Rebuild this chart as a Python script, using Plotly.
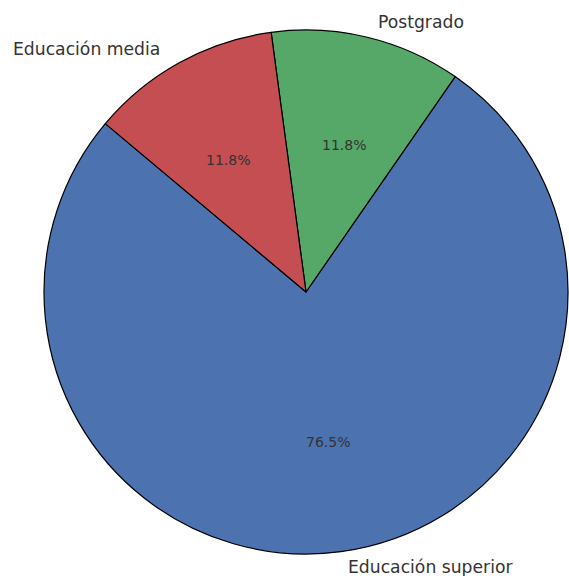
import numpy as np
import plotly.graph_objects as go

# Data
categories = ["Educación superior", "Postgrado", "Educación media"]
counts = [13, 2, 2]
colors = ["#4C72B0", "#55A868", "#C44E52"]

W, H = 569, 576
cx, cy = 306, 292          # pie centre (px)
r_pie = 262                # pie radius (px)
rx, ry = 271, 252          # radii used for text placement (px)
start_deg = 140            # matplotlib-style start angle (ccw from +x)

total = sum(counts)
# plotly (ccw): first slice spans clockwise angles [rotation, rotation + a0]
first_span = 360 * counts[0] / total
rotation = (90 - (start_deg + first_span)) % 360
if rotation > 180:
    rotation -= 360

fig = go.Figure(go.Pie(
    labels=categories,
    values=counts,
    sort=False,
    direction="counterclockwise",
    rotation=rotation,
    marker=dict(colors=colors, line=dict(color="black", width=1.2)),
    textinfo="none",
    hoverinfo="label+percent",
    showlegend=False,
    domain=dict(
        x=[(cx - r_pie) / W, (cx + r_pie) / W],
        y=[1 - (cy + r_pie) / H, 1 - (cy - r_pie) / H],
    ),
))

theta = start_deg
annotations = []
for cat, v in zip(categories, counts):
    span = 360 * v / total
    mid = np.deg2rad(theta + span / 2)
    theta += span
    c, s = np.cos(mid), np.sin(mid)
    # outer label
    lx = cx + 1.1 * rx * c
    ly = cy - 1.1 * ry * s
    annotations.append(dict(
        x=lx / W, y=1 - ly / H, xref="paper", yref="paper",
        text=cat, showarrow=False,
        xanchor="left" if c > 0 else "right", yanchor="middle",
        font=dict(family="DejaVu Sans", size=17.2, color="#333333"),
    ))
    # percentage
    px = cx + 0.6 * rx * c
    py = cy - 0.6 * ry * s
    annotations.append(dict(
        x=px / W, y=1 - py / H, xref="paper", yref="paper",
        text=f"{100 * v / total:.1f}%", showarrow=False,
        xanchor="center", yanchor="middle",
        font=dict(family="DejaVu Sans", size=14, color="#333333"),
    ))

fig.update_layout(
    width=W, height=H,
    margin=dict(l=0, r=0, t=0, b=0),
    paper_bgcolor="white", plot_bgcolor="white",
    annotations=annotations,
)

fig.write_html(
    "out.html",
    config={"displayModeBar": False},
    post_script="document.body.style.margin='0';document.body.style.overflow='hidden';",
)
